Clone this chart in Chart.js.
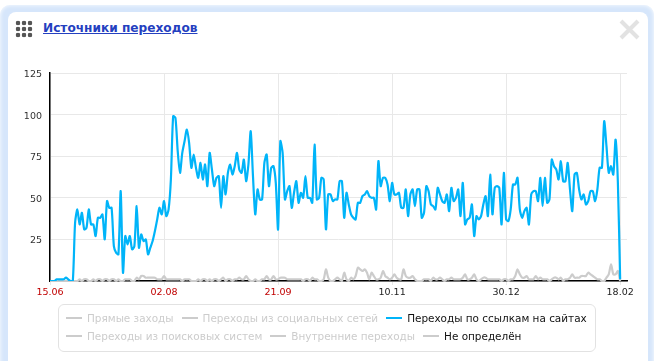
<!DOCTYPE html>
<html lang="ru">
<head>
<meta charset="utf-8">
<title>Источники переходов</title>
<script src="https://cdn.jsdelivr.net/npm/chart.js@4"></script>
<style>
html, body { margin: 0; padding: 0; background: #fff; overflow: hidden; }
body { width: 657px; height: 361px; position: relative; font-family: "DejaVu Sans", sans-serif; }
#frame { position: absolute; left: 0; top: 5px; width: 654px; height: 380px; border-radius: 10px; background: #d6e6fb; box-shadow: inset 0 0 4px #fff; }
#card { position: absolute; left: 8px; top: 12px; width: 640px; height: 370px; border-radius: 8px; background: #fff; }
#icon { position: absolute; left: 15px; top: 20px; width: 18px; height: 18px;
    background-image: radial-gradient(circle at 3px 3px, #555 2px, transparent 2.6px); background-size: 6px 6px; }
#title { position: absolute; left: 43px; top: 21px; font-size: 12.15px; font-weight: bold; color: #2440c0; text-decoration: underline; }
#close { position: absolute; left: 619px; top: 19px; }
#chart { position: absolute; left: 0; top: 0; }
#legend { position: absolute; left: 58px; top: 304px; width: 536px; height: 46px; border: 1px solid #e2e2e2; border-radius: 6px; font-size: 10.45px; }
.row { position: absolute; left: 7px; display: flex; white-space: nowrap; align-items: center; height: 18px; }
.item { display: flex; align-items: center; margin-right: 8px; color: #ccc; }
.item i { display: block; width: 16px; height: 2px; margin-right: 5px; background: #ccc; }
.item.on { color: #111; }
</style>
</head>
<body>
<div id="frame"></div>
<div id="card"></div>
<div id="icon"></div>
<div id="title">Источники переходов</div>
<svg id="close" width="22" height="22"><path d="M2 2 L19 19 M19 2 L2 19" stroke="#e2e2e2" stroke-width="4"/></svg>
<canvas id="chart" width="657" height="361"></canvas>
<div id="legend"></div>
<script>
const tickLabels = ['15.06', '02.08', '21.09', '10.11', '30.12', '18.02'];
const redTicks = [true, true, true, false, false, false];
const yTicks = [0, 25, 50, 75, 100, 125];

// Переходы по ссылкам на сайтах
const linkValues = [
    0, 0, 0, 1, 1, 1, 1, 2, 1, 0,
    0, 35, 43, 34, 41, 31, 32, 43, 34, 34,
    27, 38, 38, 40, 25, 48, 44, 44, 21, 17,
    16, 54, 5, 27, 22, 27, 19, 21, 45, 20,
    28, 24, 25, 16, 20, 24, 30, 37, 44, 40,
    48, 39, 43, 61, 99, 98, 78, 65, 77, 84,
    91, 83, 68, 76, 68, 62, 71, 61, 70, 57,
    77, 67, 57, 62, 63, 44, 63, 52, 65, 70,
    64, 69, 77, 67, 65, 73, 60, 70, 90, 63,
    40, 55, 49, 49, 71, 76, 57, 68, 69, 59,
    31, 84, 77, 49, 54, 57, 44, 53, 60, 47,
    53, 50, 63, 50, 50, 47, 82, 49, 50, 62,
    61, 31, 52, 52, 48, 49, 49, 60, 60, 38,
    53, 46, 40, 38, 37, 47, 47, 51, 52, 54,
    51, 50, 50, 43, 72, 57, 62, 62, 58, 48,
    59, 52, 52, 53, 44, 44, 55, 39, 52, 55,
    45, 55, 55, 38, 41, 57, 54, 46, 45, 43,
    56, 52, 48, 47, 52, 42, 56, 48, 50, 55,
    39, 59, 34, 37, 38, 46, 27, 39, 37, 39,
    46, 51, 39, 64, 40, 56, 57, 56, 34, 65,
    37, 36, 43, 58, 58, 62, 43, 38, 42, 44,
    34, 52, 54, 54, 48, 62, 45, 62, 47, 49,
    73, 69, 67, 61, 72, 60, 60, 71, 55, 42,
    64, 65, 55, 49, 52, 46, 48, 54, 54, 48,
    55, 68, 68, 96, 81, 65, 69, 64, 85, 59, 1
];

// Не определён
const unknownValues = [
    0, 0, 0, 0, 0, 0, 0, 0, 0, 0,
    0, 0, 0, 1, 0, 1, 1, 0, 0, 1,
    0, 1, 1, 0, 1, 1, 0, 1, 1, 0,
    1, 0, 0, 1, 1, 1, 0, 0, 2, 1,
    3, 3, 2, 2, 2, 2, 2, 1, 1, 1,
    3, 1, 1, 1, 1, 1, 1, 1, 0, 1,
    1, 1, 0, 0, 0, 1, 0, 1, 1, 0,
    1, 0, 1, 1, 0, 1, 2, 0, 1, 1,
    0, 1, 1, 2, 1, 1, 3, 1, 0, 0,
    1, 0, 0, 1, 1, 3, 1, 1, 3, 1,
    1, 2, 2, 2, 1, 1, 1, 1, 1, 1,
    1, 0, 1, 1, 0, 2, 1, 1, 0, 0,
    1, 7, 2, 0, 0, 1, 2, 1, 0, 5,
    1, 0, 2, 1, 3, 8, 7, 6, 7, 5,
    1, 5, 3, 1, 1, 2, 6, 3, 2, 1,
    2, 4, 2, 1, 1, 7, 3, 2, 2, 3,
    1, 0, 0, 0, 1, 1, 1, 0, 2, 1,
    1, 2, 1, 0, 1, 1, 2, 1, 1, 1,
    1, 2, 4, 1, 1, 2, 4, 1, 0, 1,
    2, 2, 1, 1, 1, 1, 1, 1, 0, 1,
    1, 0, 1, 1, 3, 7, 4, 2, 2, 3,
    1, 1, 1, 3, 1, 2, 1, 1, 1, 0,
    1, 2, 2, 1, 2, 0, 1, 1, 2, 4,
    2, 2, 2, 3, 3, 3, 5, 4, 3, 2,
    1, 1, 0, 0, 2, 4, 10, 4, 4, 6, 0
];

const legendRows = [
    ['Прямые заходы', 'Переходы из социальных сетей', 'Переходы по ссылкам на сайтах'],
    ['Переходы из поисковых систем', 'Внутренние переходы', 'Не определён']
];
const activeNames = ['Переходы по ссылкам на сайтах', 'Не определён'];
const lineColors = { 'Переходы по ссылкам на сайтах': '#00b4f9' };

// Подпись только у каждого 50-го дня, остальные категории пустые
const tickStep = 50;
const categories = [];
for (let i = 0; i < 254; i++) {
    categories.push(i % tickStep === 0 ? (tickLabels[i / tickStep] || '') : '');
}

const gridColor = '#e8e8e8';

new Chart(document.getElementById('chart'), {
    type: 'line',
    data: {
        labels: categories,
        datasets: [
            { label: activeNames[0], data: linkValues, borderColor: '#00b4f9', borderWidth: 2.2, tension: 0.25, pointRadius: 0 },
            { label: activeNames[1], data: unknownValues, borderColor: '#cccccc', borderWidth: 2.2, tension: 0.25, pointRadius: 0, clip: false }
        ]
    },
    options: {
        responsive: false,
        animation: false,
        events: [],
        layout: { padding: { top: 73, right: 30, left: 0, bottom: 0 } },
        plugins: { legend: { display: false }, tooltip: { enabled: false } },
        scales: {
            x: {
                afterBuildTicks: (scale) => {
                    scale.ticks = scale.ticks.filter((t) => t.value % tickStep === 0 && t.value <= 250);
                },
                afterFit: (scale) => { scale.height = 80; },
                grid: { color: gridColor, tickLength: 4 },
                border: { color: '#000', width: 1.5 },
                ticks: {
                    autoSkip: false,
                    maxRotation: 0,
                    padding: 2,
                    font: { family: '"DejaVu Sans"', size: 9.5 },
                    color: (ctx) => (redTicks[ctx.index] ? '#c00000' : '#222')
                }
            },
            y: {
                min: 0,
                max: 125,
                afterBuildTicks: (scale) => { scale.ticks = yTicks.map((v) => ({ value: v })); },
                afterFit: (scale) => { scale.width = 50; },
                grid: { color: gridColor, drawTicks: false },
                border: { color: '#000', width: 1.5 },
                ticks: {
                    padding: 8,
                    labelOffset: 1.5,
                    font: { family: '"DejaVu Sans"', size: 9.5 },
                    color: '#333',
                    callback: (v) => (v === 0 ? '' : v)
                }
            }
        }
    }
});

// Легенда в две строки, как в оригинале
const legend = document.getElementById('legend');
legendRows.forEach((names, r) => {
    const row = document.createElement('div');
    row.className = 'row';
    row.style.top = (4 + r * 18) + 'px';
    names.forEach((name) => {
        const item = document.createElement('div');
        item.className = 'item' + (activeNames.includes(name) ? ' on' : '');
        const mark = document.createElement('i');
        if (lineColors[name]) mark.style.background = lineColors[name];
        item.appendChild(mark);
        item.appendChild(document.createTextNode(name));
        row.appendChild(item);
    });
    legend.appendChild(row);
});
</script>
</body>
</html>
